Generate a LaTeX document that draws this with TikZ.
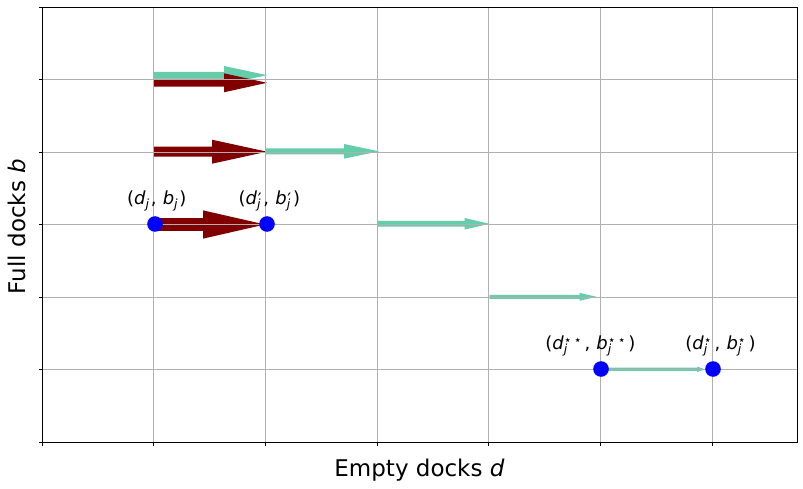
\documentclass[tikz,border=0pt]{standalone}
\usepackage{fontspec}
\setmainfont{DejaVu Sans}
\definecolor{aquac}{HTML}{66CDAA}
\definecolor{redc}{HTML}{800000}
\definecolor{gridc}{HTML}{B0B0B0}
% #1 colour, #2 start x, #3 centre y, #4 tip x, #5 shaft width, #6 head width, #7 head length
\newcommand\farrow[7]{\fill[#1] ({#2},{#3-#5/2}) -- ({#4-#7},{#3-#5/2}) -- ({#4-#7},{#3-#6/2}) -- ({#4},{#3}) -- ({#4-#7},{#3+#6/2}) -- ({#4-#7},{#3+#5/2}) -- ({#2},{#3+#5/2}) -- cycle;}
\newcommand\subsup[3]{{\fontsize{12.6}{12.6}\selectfont
 \setbox0=\hbox{\raisebox{-3.5pt}{#1}}%
 \setbox2=\hbox{\raisebox{#3}{#2}}%
 \ifdim\wd0>\wd2 \rlap{\box2}\box0 \else \rlap{\box0}\box2 \fi}\kern1.8pt}
\newcommand\primesym{{\fontsize{17}{17}\selectfont\kern0.6pt′}}
\newcommand\lblfont{\fontsize{18}{18}\selectfont}
\newcommand\axfont{\fontsize{23}{23}\selectfont}
\begin{document}
\begin{tikzpicture}[x=1pt,y=-1pt,
  gridline/.style={draw=gridc,line width=0.8pt},
  frameline/.style={draw=black,line width=0.8pt},
  dot/.style={circle,fill=blue,inner sep=0pt,minimum size=15.6pt},
  lab/.style={anchor=base west,inner sep=0pt,font=\lblfont},
  axlab/.style={anchor=base,inner sep=0pt,font=\axfont}]
\useasboundingbox (0,0) rectangle (803,489);
\fill[white] (0,0) rectangle (803,489);
% arrows
\farrow{aquac}{154}{75.2}{267}{6.7}{18.5}{43}
\farrow{redc}{154}{82.8}{267}{7.7}{19}{43}
\farrow{redc}{154}{151.7}{267}{10}{24}{55}
\farrow{aquac}{266}{151.3}{379}{6}{14.7}{35}
\farrow{redc}{155}{224.5}{265}{12.7}{28.3}{62}
\farrow{aquac}{378}{223.8}{489.5}{5.7}{11.7}{25}
\farrow{aquac}{489.5}{296.8}{596.5}{4}{8}{17}
\farrow{aquac}{601}{369.3}{705}{3.3}{5.5}{8}
% grid
\foreach \k in {1,...,6} \draw[gridline] ({42+111.667*\k},7) -- ({42+111.667*\k},442);
\foreach \k in {1,...,5} \draw[gridline] (42,{442-72.5*\k}) -- (797,{442-72.5*\k});
% frame and ticks
\draw[frameline] (42,7) rectangle (797,442);
\foreach \k in {0,...,6} \draw[frameline] ({42+111.667*\k},442) -- ({42+111.667*\k},445.5);
\foreach \k in {0,...,6} \draw[frameline] (42,{442-72.5*\k}) -- (38.5,{442-72.5*\k});
% points
\node[dot] (p1) at (155,224) {};
\node[dot] (p2) at (267,224) {};
\node[dot] (p3) at (601,369) {};
\node[dot] (p4) at (713,369) {};
% labels
\node[lab] (l1) at (126.8,204.6) {(\textit{d}\subsup{\textit{j}}{}{0pt},\kern0.5pt{} \textit{b}\subsup{\textit{j}}{}{0pt})};
\node[lab] (l2) at (238.5,204.6) {(\textit{d}\subsup{\textit{j}}{\primesym}{-1pt},\kern0.5pt{} \textit{b}\subsup{\textit{j}}{\primesym}{-1pt})};
\node[lab] (l3) at (545.2,349.5) {(\textit{d}\subsup{\textit{j}}{⋆\kern2pt⋆}{5.5pt}\kern1pt,\kern0.5pt{} \textit{b}\subsup{\textit{j}}{⋆\kern2pt⋆}{5.5pt}\kern1pt)};
\node[lab] (l4) at (685.2,349.5) {(\textit{d}\subsup{\textit{j}}{⋆}{5.5pt}\kern1pt,\kern0.5pt{} \textit{b}\subsup{\textit{j}}{⋆}{5.5pt}\kern1pt)};
% axis labels
\node[axlab] (xl) at (419.5,476) {Empty docks \textit{d}};
\node[axlab,rotate=90] (yl) at (25,226.5) {Full docks \textit{b}};
\end{tikzpicture}
\end{document}
